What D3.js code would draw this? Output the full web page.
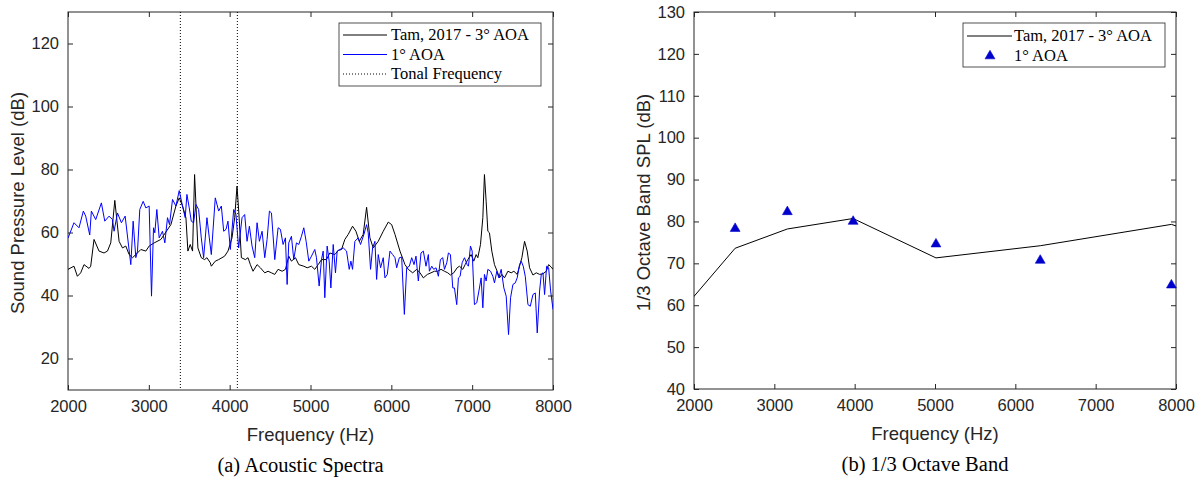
<!DOCTYPE html>
<html lang="en">
<head>
    <meta charset="utf-8">
    <title>Acoustic spectra and 1/3 octave band</title>
    <script src="https://d3js.org/d3.v7.min.js"></script>
    <style>
        body { margin: 0; background: #fff; }
        .tick text { font-family: "Liberation Sans", Arial, sans-serif; font-size: 16.5px; fill: #262626; }
        .tick line { stroke: #262626; }
    </style>
</head>
<body>
<script>
    // ---- data: (a) acoustic spectra ----
    const tamFreq = [2000,2074,2116,2157,2198,2260,2281,2322,2384,2446,2488,2529,2579,2632,2674,2715,2756,2798,2839,2901,
        2963,3004,3066,3149,3273,3335,3376,3417,3459,3483,3512,3541,3566,3607,3649,3690,3719,3760,3773,3822,
        3864,3905,3938,3979,4029,4062,4091,4112,4145,4194,4227,4256,4289,4339,4380,4434,4475,4516,4558,4599,
        4649,4690,4731,4764,4814,4855,4917,4959,5012,5053,5095,5136,5198,5239,5301,5343,5384,5425,5467,5520,
        5562,5603,5652,5694,5735,5776,5838,5900,5962,6004,6045,6107,6169,6210,6264,6314,6355,6396,6446,6491,
        6533,6574,6615,6657,6698,6731,6772,6814,6843,6884,6913,6946,6987,7020,7049,7070,7103,7132,7152,7173,
        7194,7214,7243,7276,7309,7338,7367,7400,7442,7483,7516,7557,7586,7615,7648,7681,7710,7752,7793,7834,
        7876,7917,7946,7979,8000];
    const tamSPL = [48.3,49.3,46.1,47.2,49.8,48.6,49.3,57.8,54.1,53.5,54.1,56.7,70.2,57.2,55.1,55.7,53.0,52.0,53.0,54.6,
        54.1,55.7,56.7,57.8,62.5,68.4,71.0,68.4,64.7,54.1,56.2,54.1,78.4,55.1,52.0,51.4,52.0,50.4,49.3,50.9,
        51.4,52.0,52.5,54.1,58.3,64.7,74.7,66.8,52.0,51.4,52.0,49.8,47.7,49.8,48.8,47.2,47.7,47.2,46.7,48.3,
        47.7,48.3,52.5,50.9,52.0,49.8,49.3,48.8,49.3,48.3,49.8,51.4,51.4,53.5,53.0,54.3,54.6,57.8,59.4,62.0,
        60.4,57.2,59.4,68.0,58.3,55.1,57.2,60.4,63.3,62.5,59.4,54.1,49.8,48.3,47.2,48.3,47.2,45.6,46.7,47.2,
        47.7,47.7,48.3,47.7,47.2,46.5,47.2,48.8,49.3,48.3,49.8,51.4,53.0,50.9,53.0,52.0,56.2,64.7,78.4,69.9,
        60.4,59.9,54.1,49.8,47.7,45.6,46.7,45.6,47.7,47.2,47.7,46.7,49.3,52.0,57.2,54.1,48.8,46.5,47.2,46.7,
        46.9,47.7,49.8,49.0,48.3];

    const aoa1Freq = [2000,2074,2136,2190,2219,2269,2289,2343,2413,2455,2508,2550,2570,2612,2661,2707,2777,2806,2839,2860,
        2888,2930,2963,3004,3033,3058,3074,3099,3128,3169,3198,3231,3256,3293,3335,3376,3417,3450,3471,3500,
        3525,3554,3583,3616,3649,3678,3719,3748,3773,3822,3864,3897,3926,3955,3979,4008,4050,4078,4111,4153,
        4186,4215,4244,4277,4310,4339,4368,4401,4434,4463,4492,4517,4558,4599,4628,4661,4690,4711,4731,4764,
        4793,4826,4855,4888,4917,4946,4979,5012,5053,5074,5107,5136,5157,5177,5206,5231,5252,5281,5309,5330,
        5363,5405,5446,5479,5500,5520,5549,5590,5619,5661,5694,5714,5743,5768,5797,5818,5838,5867,5900,5921,
        5950,5983,6016,6045,6066,6099,6128,6161,6190,6223,6252,6281,6305,6334,6367,6396,6429,6458,6471,6500,
        6524,6553,6582,6607,6636,6657,6686,6706,6731,6760,6781,6809,6830,6851,6876,6905,6938,6954,6979,7000,
        7028,7057,7090,7111,7132,7152,7173,7194,7227,7256,7276,7305,7330,7359,7392,7421,7450,7475,7504,7533,
        7557,7586,7607,7632,7657,7690,7719,7752,7781,7805,7834,7855,7876,7896,7921,7946,7971,8000];
    const aoa1SPL = [58.2,63.1,61.5,66.8,65.2,59.2,66.8,64.1,69.4,63.6,65.2,64.1,60.4,66.2,63.1,65.2,49.8,63.6,52.0,54.1,
        67.3,69.9,67.8,68.4,39.8,61.5,59.9,67.3,58.3,60.4,56.7,64.7,62.5,70.5,68.4,73.3,68.4,64.7,72.1,67.8,
        63.6,63.1,68.9,67.3,58.3,52.0,64.7,58.3,53.0,71.0,66.8,68.4,60.4,61.0,63.6,54.6,67.3,65.7,55.1,64.7,
        65.7,57.2,62.0,55.7,52.0,63.1,57.2,60.4,52.0,57.8,66.8,66.2,51.4,61.5,61.0,56.2,58.3,43.5,56.7,58.8,
        51.4,56.7,56.2,58.8,61.5,57.2,50.9,52.5,54.6,52.0,43.0,51.4,54.1,39.3,55.7,50.9,42.4,56.2,47.2,54.1,
        54.6,55.1,54.1,48.3,50.9,48.3,57.2,58.3,56.2,59.4,62.5,59.9,48.3,55.1,57.2,45.1,53.0,48.8,52.0,45.6,
        46.7,54.1,53.0,52.0,48.8,52.0,52.2,34.0,48.8,49.3,52.0,49.8,52.5,44.6,53.5,54.1,49.3,53.0,47.7,49.3,
        48.3,48.8,46.1,51.4,52.0,48.3,50.4,53.5,53.0,42.4,42.4,37.1,45.6,46.1,50.4,52.0,49.8,49.3,55.7,54.1,
        37.1,37.7,42.4,45.6,36.1,46.7,44.6,48.3,47.7,46.1,44.0,47.7,45.6,48.3,42.4,39.8,27.6,39.3,43.5,44.0,
        45.6,49.8,50.9,49.3,46.1,37.1,36.6,40.3,40.8,28.1,41.4,46.7,47.2,40.3,49.3,48.8,41.4,35.6];

    const tonalFreq = [3390, 4095];

    // ---- data: (b) 1/3 octave band ----
    const bandTamFreq = [1995, 2512, 3162, 3981, 5012, 6310, 7943, 10000];
    const bandTamSPL  = [62.0, 73.6, 78.2, 80.7, 71.3, 74.2, 79.3, 66.0];
    const bandAoaFreq = [2512, 3162, 3981, 5012, 6310, 7943];
    const bandAoaSPL  = [78.3, 82.3, 80.0, 74.6, 70.7, 64.8];

    const xTicks = [2000, 3000, 4000, 5000, 6000, 7000, 8000];
    const yTicksA = [20, 40, 60, 80, 100, 120];
    const yTicksB = [40, 50, 60, 70, 80, 90, 100, 110, 120, 130];

    const axisColor = "#262626";
    const sansFont = "'Liberation Sans', Arial, sans-serif";
    const serifFont = "'Liberation Serif', 'Times New Roman', serif";

    const svg = d3.select("body").append("svg")
        .attr("width", 1202)
        .attr("height", 481);

    // draws the box, ticks and labels of one panel, returns scales + group
    function makePanel(id, left, top, width, height, yDomain, yTicks, yLabel, caption) {
        const g = svg.append("g").attr("transform", `translate(${left},${top})`);
        const x = d3.scaleLinear().domain([2000, 8000]).range([0, width]);
        const y = d3.scaleLinear().domain(yDomain).range([height, 0]);

        svg.append("clipPath").attr("id", id)
            .append("rect").attr("x", 0).attr("y", 0).attr("width", width).attr("height", height);

        // bottom / top
        g.append("g").attr("transform", `translate(0,${height})`)
            .call(d3.axisBottom(x).tickValues(xTicks).tickFormat(d3.format("d"))
                .tickSizeInner(-5).tickSizeOuter(0).tickPadding(10))
            .call(a => a.select(".domain").remove());
        g.append("g")
            .call(d3.axisTop(x).tickValues(xTicks).tickSizeInner(-5).tickSizeOuter(0).tickFormat(""))
            .call(a => a.select(".domain").remove());
        // left / right
        g.append("g")
            .call(d3.axisLeft(y).tickValues(yTicks).tickSizeInner(-5).tickSizeOuter(0).tickPadding(9))
            .call(a => a.select(".domain").remove());
        g.append("g").attr("transform", `translate(${width},0)`)
            .call(d3.axisRight(y).tickValues(yTicks).tickSizeInner(-5).tickSizeOuter(0).tickFormat(""))
            .call(a => a.select(".domain").remove());

        g.append("rect")
            .attr("width", width).attr("height", height)
            .attr("fill", "none").attr("stroke", axisColor).attr("stroke-width", 1);

        g.append("text")
            .attr("x", width / 2).attr("y", height + 51)
            .attr("text-anchor", "middle")
            .style("font-family", sansFont).style("font-size", "18.5px").style("fill", axisColor)
            .text("Frequency (Hz)");

        g.append("text")
            .attr("transform", `translate(-44,${height / 2 + 2}) rotate(-90)`)
            .attr("text-anchor", "middle")
            .style("font-family", sansFont).style("font-size", "18.5px").style("fill", axisColor)
            .text(yLabel);

        g.append("text")
            .attr("x", width / 2 - 10).attr("y", height + 82)
            .attr("text-anchor", "middle")
            .style("font-family", serifFont).style("font-size", "20.5px").style("fill", "#000")
            .text(caption);

        return { g, x, y };
    }

    // ================= (a) Acoustic Spectra =================
    const pa = makePanel("clipA", 68, 12, 485, 378, [10, 130], yTicksA,
        "Sound Pressure Level (dB)", "(a) Acoustic Spectra");

    const plotA = pa.g.append("g").attr("clip-path", "url(#clipA)");

    plotA.selectAll(".tonal")
        .data(tonalFreq)
        .enter().append("line")
        .attr("x1", d => pa.x(d)).attr("x2", d => pa.x(d))
        .attr("y1", 0).attr("y2", 378)
        .attr("stroke", "#000").attr("stroke-width", 1)
        .attr("stroke-dasharray", "1,2");

    const lineA = (fx, fy) => d3.line()
        .x((d, i) => pa.x(fx[i]))
        .y((d, i) => pa.y(fy[i]));

    plotA.append("path")
        .datum(tamFreq)
        .attr("fill", "none").attr("stroke", "#000").attr("stroke-width", 1)
        .attr("d", lineA(tamFreq, tamSPL));

    plotA.append("path")
        .datum(aoa1Freq)
        .attr("fill", "none").attr("stroke", "#0000ff").attr("stroke-width", 1)
        .attr("d", lineA(aoa1Freq, aoa1SPL));

    // legend (a)
    const legA = pa.g.append("g").attr("transform", "translate(271,11)");
    legA.append("rect").attr("width", 202).attr("height", 63)
        .attr("fill", "#fff").attr("stroke", axisColor).attr("stroke-width", 0.8);
    const legAItems = [
        { label: "Tam, 2017 - 3\u00B0 AOA", color: "#000", dash: null },
        { label: "1\u00B0 AOA", color: "#0000ff", dash: null },
        { label: "Tonal Frequency", color: "#000", dash: "1,2" }
    ];
    legAItems.forEach((it, i) => {
        const cy = 12 + i * 19.5;
        legA.append("line")
            .attr("x1", 4).attr("x2", 48).attr("y1", cy).attr("y2", cy)
            .attr("stroke", it.color).attr("stroke-width", 1)
            .attr("stroke-dasharray", it.dash);
        legA.append("text")
            .attr("x", 52).attr("y", cy + 5)
            .style("font-family", serifFont).style("font-size", "16.5px").style("fill", "#000")
            .text(it.label);
    });

    // ================= (b) 1/3 Octave Band =================
    const pb = makePanel("clipB", 694, 12, 482, 377, [40, 130], yTicksB,
        "1/3 Octave Band SPL (dB)", "(b) 1/3 Octave Band");

    const plotB = pb.g.append("g").attr("clip-path", "url(#clipB)");

    plotB.append("path")
        .datum(bandTamFreq)
        .attr("fill", "none").attr("stroke", "#000").attr("stroke-width", 1)
        .attr("d", d3.line()
            .x((d, i) => pb.x(bandTamFreq[i]))
            .y((d, i) => pb.y(bandTamSPL[i])));

    const tri = d3.symbol().type(d3.symbolTriangle).size(42);
    pb.g.selectAll(".tri")
        .data(bandAoaFreq)
        .enter().append("path")
        .attr("transform", (d, i) => `translate(${pb.x(d)},${pb.y(bandAoaSPL[i])})`)
        .attr("d", tri)
        .attr("fill", "#0000cc").attr("stroke", "#0000cc").attr("stroke-width", 0.6);

    // legend (b)
    const legB = pb.g.append("g").attr("transform", "translate(269,11)");
    legB.append("rect").attr("width", 202).attr("height", 44)
        .attr("fill", "#fff").attr("stroke", axisColor).attr("stroke-width", 0.8);
    legB.append("line")
        .attr("x1", 4).attr("x2", 49).attr("y1", 13).attr("y2", 13)
        .attr("stroke", "#000").attr("stroke-width", 1);
    legB.append("text")
        .attr("x", 51).attr("y", 18)
        .style("font-family", serifFont).style("font-size", "16.5px").style("fill", "#000")
        .text("Tam, 2017 - 3\u00B0 AOA");
    legB.append("path")
        .attr("transform", "translate(27,33)")
        .attr("d", tri)
        .attr("fill", "#0000cc").attr("stroke", "#0000cc").attr("stroke-width", 0.6);
    legB.append("text")
        .attr("x", 51).attr("y", 38)
        .style("font-family", serifFont).style("font-size", "16.5px").style("fill", "#000")
        .text("1\u00B0 AOA");
</script>
</body>
</html>
